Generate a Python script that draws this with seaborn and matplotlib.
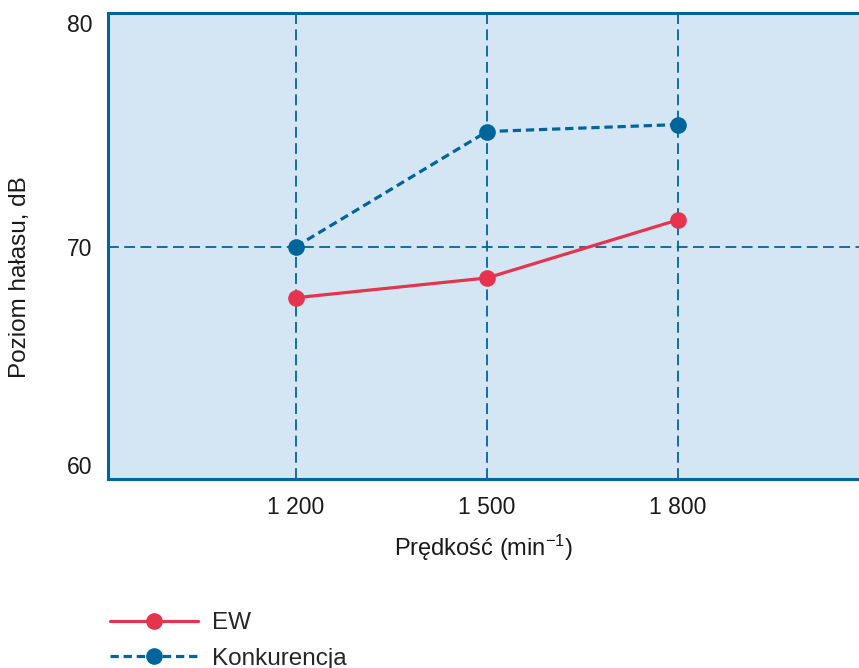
import numpy as np
import pandas as pd
import matplotlib.pyplot as plt
import seaborn as sns

# dane
predkosc = [1200, 1500, 1800]
ew = [67.8, 68.65, 71.15]
konkurencja = [70.0, 74.95, 75.25]
serie = ['EW', 'Konkurencja']
x_ticks = [1200, 1500, 1800]
x_labels = ['1 200', '1 500', '1 800']
y_ticks = [60, 70, 80]

NIEBIESKI = '#00659b'
CZERWONY = '#e6344f'
TLO = '#d4e6f4'


def rysuj():
    sns.set_style('white')
    plt.rcParams['font.family'] = ['Liberation Sans', 'DejaVu Sans']
    plt.rcParams['mathtext.default'] = 'regular'

    df = pd.DataFrame({
        'x': predkosc * 2,
        'y': ew + konkurencja,
        'seria': [serie[0]] * 3 + [serie[1]] * 3,
    })

    fig = plt.figure(figsize=(8.59, 6.68), dpi=100)
    ax = fig.add_axes([108 / 859, 1 - 479 / 668, 1 - 108 / 859, (479 - 13) / 668])
    ax.set_facecolor(TLO)

    sns.lineplot(data=df, x='x', y='y', hue='seria', style='seria',
                 palette={'EW': CZERWONY, 'Konkurencja': NIEBIESKI},
                 dashes={'EW': '', 'Konkurencja': (2.6, 1.5)},
                 markers={'EW': 'o', 'Konkurencja': 'o'},
                 markersize=12, markeredgewidth=0, linewidth=2.3,
                 ax=ax, legend=True, zorder=3)

    ax.set_xlim(905, 2084)
    ax.set_ylim(60, 80.05)
    ax.set_xticks(x_ticks)
    ax.set_xticklabels(x_labels)
    ax.set_yticks(y_ticks)
    ax.set_yticklabels([str(v) for v in y_ticks])
    ax.grid(True, color=NIEBIESKI, linestyle=(0, (6, 3)), linewidth=1.3, zorder=1)
    ax.tick_params(length=0, labelsize=16.5, colors='#1a1a1a')
    ax.tick_params(axis='x', pad=12)
    ax.tick_params(axis='y', pad=11)
    ylab = ax.get_yticklabels()
    ylab[0].set_va('bottom')
    ylab[2].set_va('top')

    for s in ['left', 'top', 'bottom']:
        ax.spines[s].set_color(NIEBIESKI)
        ax.spines[s].set_linewidth(2.2)
    ax.spines['right'].set_visible(False)

    ax.set_xlabel('Prędkość (min$^{-1}$)', fontsize=17, color='#1a1a1a', labelpad=10)
    ax.set_ylabel('Poziom hałasu, dB', fontsize=17.5, color='#1a1a1a')
    ax.yaxis.set_label_coords((31 - 108) / 751, (479 - 277) / 466)

    handles, labels = ax.get_legend_handles_labels()
    ax.legend(handles, labels, loc='upper left', bbox_to_anchor=(98 / 859, 1 - 600 / 668),
              bbox_transform=fig.transFigure, frameon=False, fontsize=17.5,
              handlelength=3.6, handletextpad=0.6, labelspacing=0.55, borderpad=0)

    fig.savefig('out.png', dpi=100)


if __name__ == '__main__':
    rysuj()
